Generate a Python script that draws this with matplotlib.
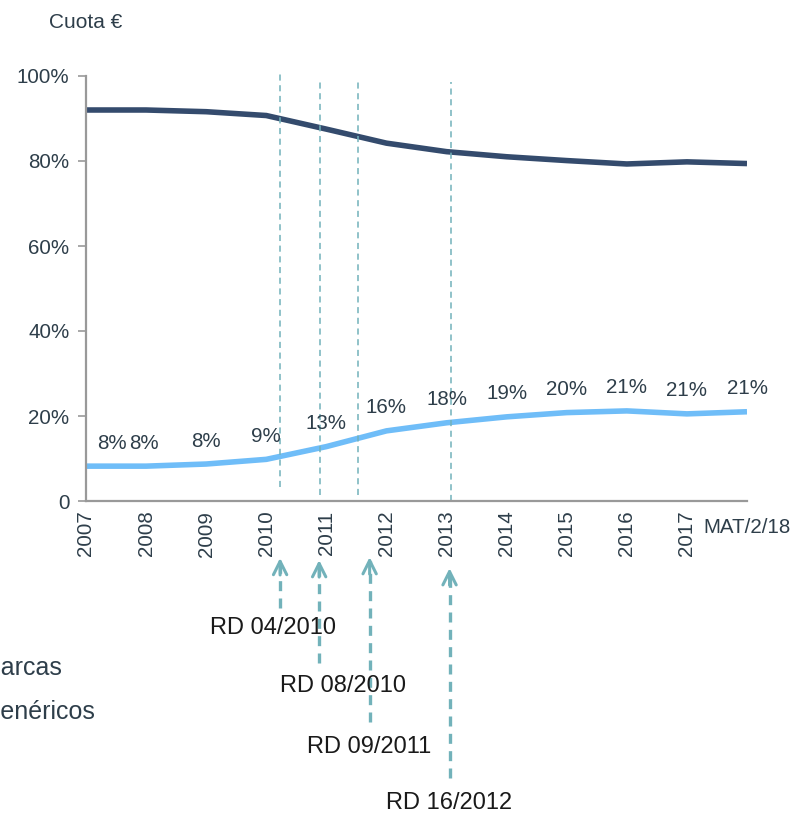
import matplotlib.pyplot as plt

plt.rcParams['font.family'] = ['Liberation Sans', 'DejaVu Sans']

# datos
periodos = ['2007', '2008', '2009', '2010', '2011', '2012', '2013',
            '2014', '2015', '2016', '2017', 'MAT/2/18']
marcas = [92.0, 92.0, 91.6, 90.7, 87.5, 84.2, 82.2, 81.0, 80.1, 79.3, 79.8, 79.4]
genericos = [8.2, 8.2, 8.7, 9.8, 12.8, 16.5, 18.4, 19.8, 20.8, 21.2, 20.5, 21.0]
etiquetas_gen = ['8%', '8%', '8%', '9%', '13%', '16%', '18%', '19%', '20%', '21%', '21%', '21%']

# reales decretos: posicion de la linea vertical y de la flecha (en eje x)
rd_nombres = ['RD 04/2010', 'RD 08/2010', 'RD 09/2011', 'RD 16/2012']
rd_lineas = [3.23, 3.9, 4.53, 6.08]
rd_flechas = [3.23, 3.88, 4.72, 6.05]

texto = '#2e3e4a'
teal = '#72b2ba'

fig = plt.figure(figsize=(7.96, 8.13), dpi=100)
ax = fig.add_axes([86 / 796, 1 - 501 / 813, 661 / 796, 425 / 813])

x = list(range(len(periodos)))
ax.plot(x, marcas, color='#344b6d', lw=4, solid_capstyle='butt')
ax.plot(x, genericos, color='#6fbdf8', lw=4, solid_capstyle='butt')

for i, (xi, v, t) in enumerate(zip(x, genericos, etiquetas_gen)):
    dx = 26 if i == 0 else (-2 if i == 1 else 0)
    ax.annotate(t, (xi, v), xytext=(dx, 23), textcoords='offset pixels',
                ha='center', va='center', fontsize=14.8, color=texto)

# lineas verticales discontinuas
rangos = [(0.033, 1.014), (0.014, 0.995), (0.014, 0.995), (0.0, 0.986)]
for xl, (y0, y1) in zip(rd_lineas, rangos):
    ax.axvline(xl, ymin=y0, ymax=y1, color=teal, lw=1.1, ls=(0, (4, 3)), clip_on=False)

ax.set_xlim(0, 11)
ax.set_ylim(0, 100)
ax.set_yticks([0, 20, 40, 60, 80, 100])
ax.set_yticklabels(['0', '20%', '40%', '60%', '80%', '100%'])
ax.set_xticks(x)
ax.set_xticklabels(periodos, rotation=90, va='top', ha='center')
lbls = ax.get_xticklabels()
lbls[-1].set_rotation(0)
lbls[-1].set_va('center')
lbls[-1].set_y(-0.039)
ax.tick_params(axis='x', length=0, pad=7, labelsize=14.8, labelcolor=texto)
ax.tick_params(axis='y', length=6, width=1.2, color='#999999', pad=6,
               labelsize=14.8, labelcolor=texto)

for s in ['top', 'right']:
    ax.spines[s].set_visible(False)
for s in ['left', 'bottom']:
    ax.spines[s].set_color('#999999')
    ax.spines[s].set_linewidth(1.6)

# flechas bajo el eje
cabezas = [-0.134, -0.139, -0.132, -0.158]
colas = [-0.252, -0.381, -0.520, -0.652]
for xf, yh, yt in zip(rd_flechas, cabezas, colas):
    ax.plot([xf, xf], [yt, yh - 0.01], transform=ax.get_xaxis_transform(),
            color=teal, lw=2.4, ls=(0, (3, 2.2)), clip_on=False)
    ax.annotate('', xy=(xf, yh), xytext=(xf, yh - 0.04),
                xycoords=ax.get_xaxis_transform(), textcoords=ax.get_xaxis_transform(),
                arrowprops=dict(arrowstyle='->', color=teal, lw=2.2,
                                mutation_scale=24, shrinkA=0, shrinkB=0))

rd_pos = [(273, 628), (343, 686), (369, 747), (449, 803)]
for nombre, (px, py) in zip(rd_nombres, rd_pos):
    fig.text(px / 796, 1 - py / 813, nombre, ha='center', va='center',
             fontsize=17, color='#1a1a1a')

fig.text(122 / 796, 1 - 23 / 813, 'Cuota €', ha='right', va='center',
         fontsize=15, color=texto)

# leyenda (cortada a la izquierda como en el original)
fig.text(62 / 796, 1 - 668 / 813, 'Marcas', ha='right', va='center',
         fontsize=18, color=texto)
fig.text(96 / 796, 1 - 712 / 813, 'Genéricos', ha='right', va='center',
         fontsize=18, color=texto)

fig.savefig('out.png', dpi=100)
